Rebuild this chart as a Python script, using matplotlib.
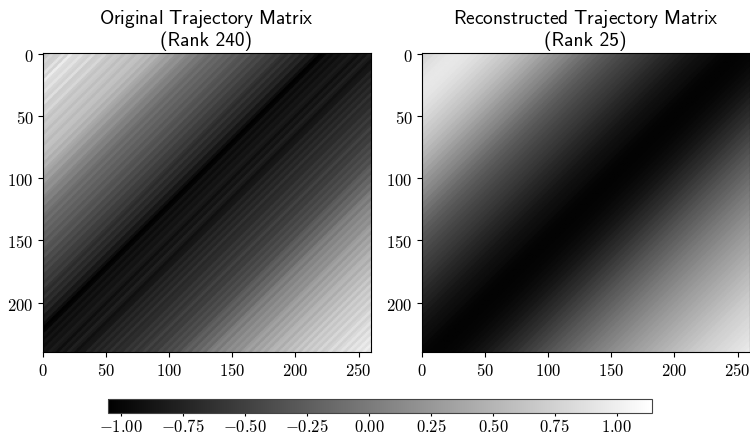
import numpy as np
import matplotlib
matplotlib.use('Agg')
import matplotlib.pyplot as plt

plt.rcParams['mathtext.fontset'] = 'cm'

# series along the anti-diagonals, read every 3 (original) and 5 (reconstructed) steps
orig_series = [
    .55, .68, .8, .72, .74, .9, .76, .98, .84, .82,
    .9, .78, .74, .86, .7, .72, .8, .68, .62, .7,
    .66, .58, .66, .62, .54, .62, .6, .52, .56, .44,
    .5, .4, .36, .28, .32, .2, .16, .2, .1, .04,
    .06, -.06, -.02, -.1, -.16, -.1, -.2, -.16, -.24, -.2,
    -.3, -.24, -.32, -.36, -.3, -.42, -.38, -.48, -.42, -.52,
    -.5, -.58, -.52, -.62, -.68, -.6, -.72, -.66, -.78, -.72,
    -.86, -.82, -.94, -1.04, -1.02, -.9, -.96, -.88, -.94, -.86,
    -.9, -.82, -.86, -.94, -.84, -.9, -.78, -.84, -.92, -.86,
    -.86, -.74, -.8, -.7, -.78, -.68, -.74, -.62, -.72, -.66,
    -.68, -.58, -.64, -.54, -.62, -.56, -.48, -.58, -.5, -.54,
    -.42, -.48, -.38, -.44, -.34, -.4, -.28, -.22, -.3, -.16,
    -.2, -.08, -.14, .0, .06, -.02, .12, .08, .18, .12,
    .22, .16, .28, .34, .24, .38, .32, .44, .36, .48,
    .52, .42, .56, .5, .62, .54, .68, .58, .72, .64,
    .74, .66, .8, .7, .76, .86, .74, .82, .9, .78,
    .92, .84, .96, .88, 1.0, .9, .96,
]
rec_series = [
    .78, .82, .87, .9, .93, .94, .93, .91, .88, .84,
    .8, .76, .71, .66, .61, .56, .5, .44, .38, .31,
    .24, .18, .12, .06, -.01, -.07, -.14, -.2, -.26, -.31,
    -.36, -.41, -.45, -.49, -.53, -.57, -.61, -.66, -.7, -.74,
    -.78, -.82, -.86, -.89, -.92, -.94, -.97, -1.0, -1.02, -1.03,
    -1.03, -1.02, -1.01, -.99, -.97, -.94, -.91, -.87, -.83, -.78,
    -.73, -.68, -.63, -.57, -.52, -.47, -.41, -.36, -.3, -.25,
    -.2, -.15, -.1, -.05, .0, .05, .09, .14, .18, .23,
    .27, .31, .35, .39, .43, .47, .51, .55, .59, .63,
    .67, .71, .74, .77, .8, .83, .86, .89, .92, .96,
]
n_rows = 240
n_cols = 260
x_ticks = [0, 50, 100, 150, 200, 250]
y_ticks = [0, 50, 100, 150, 200]
cbar_ticks = [-1.0, -0.75, -0.5, -0.25, 0.0, 0.25, 0.5, 0.75, 1.0]
titles = ['$\\mathsf{Original\\ Trajectory\\ Matrix}$', '$\\mathsf{Reconstructed\\ Trajectory\\ Matrix}$']
subtitles = ['(Rank 240)', '(Rank 25)']


def hankel(series, step):
    k = np.add.outer(np.arange(n_rows), np.arange(n_cols))
    return np.array(series)[k // step]


fig = plt.figure(figsize=(7.5, 4.35), dpi=100)
ax1 = fig.add_axes([42.5 / 750, 1 - 353 / 435, 328 / 750, 299 / 435])
ax2 = fig.add_axes([421.5 / 750, 1 - 353 / 435, 328 / 750, 299 / 435])
cax = fig.add_axes([107.5 / 750, 1 - 414 / 435, 544 / 750, 14 / 435])

mats = [hankel(orig_series, 3), hankel(rec_series, 5)]
for ax, m, t, s in zip([ax1, ax2], mats, titles, subtitles):
    im = ax.imshow(m, cmap='gray', vmin=-1.056, vmax=1.14, aspect='auto')
    ax.set_xticks(x_ticks)
    ax.set_yticks(y_ticks)
    ax.set_xticklabels(['$%d$' % v for v in x_ticks])
    ax.set_yticklabels(['$%d$' % v for v in y_ticks])
    ax.tick_params(labelsize=12, pad=3)
    ax.set_title(t, fontsize=14, pad=21.6)
    ax.annotate(s, xy=(0.5, 1), xycoords='axes fraction', xytext=(0, 5.8), textcoords='offset points',
                ha='center', va='baseline', family='cmss10', fontsize=14)

cb = fig.colorbar(im, cax=cax, orientation='horizontal')
cb.set_ticks(cbar_ticks)
cb.set_ticklabels(['$%.2f$' % v for v in cbar_ticks])
cb.ax.tick_params(labelsize=12, length=2.2, pad=1)
cb.outline.set_edgecolor('#444444')

plt.savefig('out.png', dpi=100)
